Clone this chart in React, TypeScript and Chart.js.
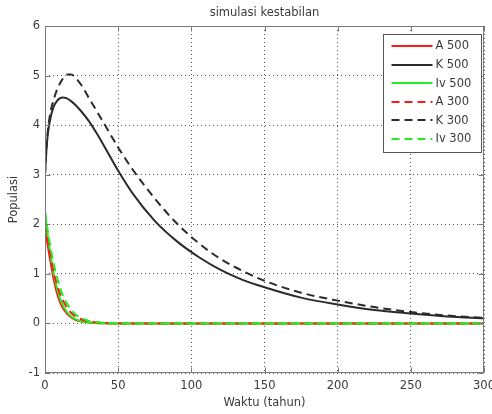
import React, { useEffect, useRef } from "react";
import { Chart, registerables } from "chart.js";
Chart.register(...registerables);

const titleText = "simulasi kestabilan";
const xTitle = "Waktu (tahun)";
const yTitle = "Populasi";

const waktu = [0, 1, 2, 4, 6, 8, 10, 12, 15, 18, 21, 25, 30, 35, 40, 50, 60, 75, 90, 105, 120, 135, 150, 175, 200, 225, 250, 275, 300];

const A500 = [2.0, 1.75, 1.55, 1.2, 0.88, 0.63, 0.45, 0.32, 0.2, 0.12, 0.07, 0.04, 0.02, 0.01, 0.005, 0, 0, 0, 0, 0, 0, 0, 0, 0, 0, 0, 0, 0, 0];
const K500 = [3.0, 3.5, 3.84, 4.18, 4.38, 4.48, 4.54, 4.56, 4.54, 4.48, 4.4, 4.27, 4.08, 3.85, 3.6, 3.08, 2.62, 2.07, 1.66, 1.34, 1.08, 0.88, 0.73, 0.52, 0.38, 0.27, 0.2, 0.14, 0.1];
const Iv500 = [2.25, 2.0, 1.75, 1.35, 1.0, 0.73, 0.53, 0.38, 0.23, 0.14, 0.08, 0.04, 0.02, 0.01, 0.004, 0, 0, 0, 0, 0, 0, 0, 0, 0, 0, 0, 0, 0, 0];
const A300 = [2.0, 1.8, 1.62, 1.3, 1.02, 0.8, 0.62, 0.48, 0.32, 0.21, 0.14, 0.08, 0.04, 0.02, 0.01, 0.003, 0, 0, 0, 0, 0, 0, 0, 0, 0, 0, 0, 0, 0];
const K300 = [3.0, 3.55, 3.9, 4.3, 4.52, 4.7, 4.83, 4.93, 5.02, 5.02, 4.95, 4.8, 4.55, 4.3, 4.05, 3.55, 3.1, 2.52, 2.02, 1.62, 1.3, 1.06, 0.86, 0.62, 0.46, 0.33, 0.23, 0.16, 0.11];
const Iv300 = [2.25, 2.05, 1.85, 1.5, 1.2, 0.95, 0.75, 0.58, 0.4, 0.27, 0.18, 0.11, 0.05, 0.03, 0.015, 0.005, 0, 0, 0, 0, 0, 0, 0, 0, 0, 0, 0, 0, 0];

const seriesLabels = ["A 500", "K 500", "Iv 500", "A 300", "K 300", "Iv 300"];
const seriesValues = [A500, K500, Iv500, A300, K300, Iv300];
const seriesColors = ["#ff1a1a", "#2b2b2b", "#22ee22", "#ff1a1a", "#2b2b2b", "#22ee22"];
const seriesDashed = [false, false, false, true, true, true];

const xTicks = [0, 50, 100, 150, 200, 250, 300];
const yTicks = [-1, 0, 1, 2, 3, 4, 5, 6];

const FONT = "DejaVu Sans";
const TEXT = "#3a3a3a";
const DASH = [8, 5];

const framePlugin = {
  id: "frame",
  afterDraw(chart: any) {
    const { ctx, chartArea: a, scales } = chart;
    const L = Math.round(a.left) + 0.5;
    const R = Math.round(a.right) - 0.5;
    const T = Math.round(a.top) + 0.5;
    const B = Math.round(a.bottom) - 0.5;
    ctx.save();
    ctx.strokeStyle = "#7a7a7a";
    ctx.lineWidth = 1;
    ctx.setLineDash([]);
    ctx.strokeRect(L, T, R - L, B - T);
    ctx.beginPath();
    for (const v of xTicks) {
      const px = Math.round(scales.x.getPixelForValue(v)) + 0.5;
      ctx.moveTo(px, B);
      ctx.lineTo(px, B - 5);
      ctx.moveTo(px, T);
      ctx.lineTo(px, T + 5);
    }
    for (const v of yTicks) {
      const py = Math.round(scales.y.getPixelForValue(v)) + 0.5;
      ctx.moveTo(L, py);
      ctx.lineTo(L + 5, py);
      ctx.moveTo(R, py);
      ctx.lineTo(R - 5, py);
    }
    ctx.stroke();

    // title
    ctx.fillStyle = TEXT;
    ctx.font = `11.5px "${FONT}"`;
    ctx.textAlign = "center";
    ctx.textBaseline = "middle";
    ctx.fillText(titleText, (a.left + a.right) / 2, 13.5);

    // legend
    const bx = Math.round(a.right) - 100.5;
    const by = Math.round(a.top) + 8.5;
    const bw = 98;
    const bh = 118;
    ctx.fillStyle = "#ffffff";
    ctx.fillRect(bx, by, bw, bh);
    ctx.strokeStyle = "#555555";
    ctx.strokeRect(bx, by, bw, bh);
    ctx.textAlign = "left";
    ctx.textBaseline = "middle";
    ctx.font = `11.5px "${FONT}"`;
    seriesLabels.forEach((lab, i) => {
      const y = by + 11.5 + i * 18.6;
      ctx.beginPath();
      ctx.strokeStyle = seriesColors[i];
      ctx.lineWidth = 2;
      ctx.setLineDash(seriesDashed[i] ? DASH : []);
      ctx.moveTo(bx + 8, Math.round(y));
      ctx.lineTo(bx + 49, Math.round(y));
      ctx.stroke();
      ctx.setLineDash([]);
      ctx.fillStyle = TEXT;
      ctx.fillText(lab, bx + 52, y + 0.5);
    });
    ctx.restore();
  },
};

export default function App() {
  const ref = useRef<HTMLCanvasElement>(null);
  useEffect(() => {
    const canvas = ref.current!;
    const chart = new Chart(canvas, {
      type: "line",
      data: {
        datasets: seriesValues.map((vals, i) => ({
          label: seriesLabels[i],
          data: waktu.map((t, j) => ({ x: t, y: vals[j] })),
          borderColor: seriesColors[i],
          backgroundColor: seriesColors[i],
          borderWidth: 2,
          borderDash: seriesDashed[i] ? DASH : [],
          pointRadius: 0,
          fill: false,
          cubicInterpolationMode: "monotone" as const,
          order: seriesValues.length - 1 - i,
        })),
      },
      options: {
        responsive: false,
        animation: false,
        events: [],
        layout: { padding: { top: 26, right: 8, left: 0, bottom: 0 } },
        plugins: {
          legend: { display: false },
          title: { display: false },
          tooltip: { enabled: false },
        },
        scales: {
          x: {
            type: "linear",
            min: 0,
            max: 300,
            afterBuildTicks: (s: any) => {
              s.ticks = xTicks.map((v) => ({ value: v }));
            },
            ticks: {
              color: TEXT,
              font: { family: FONT, size: 11.5 },
              padding: 6,
              maxRotation: 0,
              autoSkip: false,
            },
            grid: { color: "#555555", lineWidth: 1, drawTicks: false, tickLength: 0 },
            border: { display: false, dash: [1, 3] },
            title: {
              display: true,
              text: xTitle,
              color: TEXT,
              font: { family: FONT, size: 11.5 },
              padding: { top: 2, bottom: 4 },
            },
            afterFit: (s: any) => {
              s.height = 41;
              s.paddingLeft = 0;
              s.paddingRight = 0;
            },
          },
          y: {
            type: "linear",
            min: -1,
            max: 6,
            afterBuildTicks: (s: any) => {
              s.ticks = yTicks.map((v) => ({ value: v }));
            },
            ticks: {
              color: TEXT,
              font: { family: FONT, size: 11.5 },
              padding: 5,
              autoSkip: false,
            },
            grid: { color: "#555555", lineWidth: 1, drawTicks: false, tickLength: 0 },
            border: { display: false, dash: [1, 3] },
            title: {
              display: true,
              text: yTitle,
              color: TEXT,
              font: { family: FONT, size: 11.5 },
              padding: { top: 7, bottom: 2 },
            },
            afterFit: (s: any) => {
              s.width = 45;
              s.paddingTop = 0;
              s.paddingBottom = 0;
            },
          },
        },
      },
      plugins: [framePlugin],
    });
    return () => chart.destroy();
  }, []);
  return (
    <div style={{ position: "fixed", left: 0, top: 0, width: 492, height: 414, background: "#ffffff" }}>
      <canvas ref={ref} width={492} height={414} style={{ display: "block", width: 492, height: 414 }} />
    </div>
  );
}
